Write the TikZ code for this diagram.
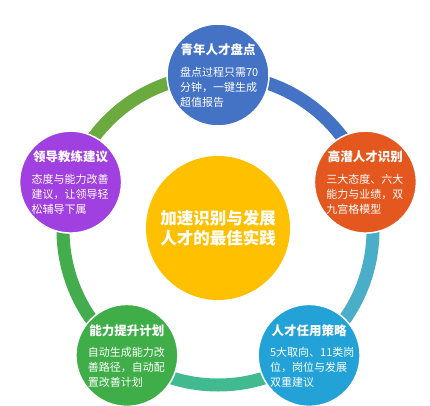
\documentclass[tikz,border=0pt]{standalone}
\usepackage{fontspec}
\newfontfamily\cjk{Noto Sans CJK SC}
\definecolor{blueS}{HTML}{4472C4}
\definecolor{orangeS}{HTML}{E4581F}
\definecolor{tealS}{HTML}{22A2D6}
\definecolor{greenS}{HTML}{3FAE49}
\definecolor{purpleS}{HTML}{A040E0}
\definecolor{yellowS}{HTML}{FFC000}
\definecolor{ringA}{HTML}{4472C4}
\definecolor{ringB}{HTML}{4BAEC8}
\definecolor{ringC}{HTML}{40BA8E}
\definecolor{ringD}{HTML}{43AC4C}
\definecolor{ringE}{HTML}{6BAA3E}
\begin{document}
\begin{tikzpicture}[x=1pt,y=1pt,
  sat/.style={circle, draw=white, line width=1.5pt, minimum size=102pt, inner sep=0pt},
  ttl/.style={text=white, font=\cjk\bfseries\fontsize{12.5}{15}\selectfont, inner sep=0pt},
  bdy/.style={text=white, font=\cjk\fontsize{11}{15}\selectfont, text width=80pt, align=left, inner sep=0pt},
  ring/.style={line width=13pt}]
\useasboundingbox (0,0) rectangle (430,405);
\coordinate (c) at (218,175);
% ring segments
\draw[ring, ringA] (c) ++(90:155) arc[start angle=90, end angle=18, radius=155];
\draw[ring, ringB] (c) ++(18:155) arc[start angle=18, end angle=-54, radius=155];
\draw[ring, ringC] (c) ++(-54:155) arc[start angle=-54, end angle=-126, radius=155];
\draw[ring, ringD] (c) ++(-126:155) arc[start angle=-126, end angle=-198, radius=155];
\draw[ring, ringE] (c) ++(162:155) arc[start angle=162, end angle=90, radius=155];
% center
\node[circle, fill=yellowS, minimum size=144pt, inner sep=0pt] (ctr) at (218,177) {};
\node[text=white, font=\cjk\bfseries\fontsize{16.5}{19.5}\selectfont, align=center] (ctxt) at (ctr.center) {加速识别与发展\\人才的最佳实践};
% satellites
\node[sat, fill=blueS] (s1) at (218,330) {};
\node[sat, fill=orangeS] (s2) at (365.4,222.9) {};
\node[sat, fill=tealS] (s3) at (309.1,49.6) {};
\node[sat, fill=greenS] (s4) at (126.9,49.6) {};
\node[sat, fill=purpleS] (s5) at (70.6,222.9) {};
% texts
\node[ttl] (t1) at ([yshift=25pt]s1.center) {青年人才盘点};
\node[bdy] (b1) at ([xshift=2pt,yshift=-12pt]s1.center) {盘点过程只需70\\分钟，一键生成\\超值报告};
\node[ttl] (t2) at ([yshift=25pt]s2.center) {高潜人才识别};
\node[bdy] (b2) at ([xshift=1pt,yshift=-12pt]s2.center) {三大态度、六大\\能力与业绩，双\\九宫格模型};
\node[ttl] (t3) at ([yshift=25pt]s3.center) {人才任用策略};
\node[bdy] (b3) at ([xshift=1pt,yshift=-12pt]s3.center) {5大取向、11类岗\\位，岗位与发展\\双重建议};
\node[ttl] (t4) at ([yshift=25pt]s4.center) {能力提升计划};
\node[bdy] (b4) at ([xshift=1pt,yshift=-12pt]s4.center) {自动生成能力改\\善路径，自动配\\置改善计划};
\node[ttl] (t5) at ([yshift=25pt]s5.center) {领导教练建议};
\node[bdy] (b5) at ([xshift=1pt,yshift=-12pt]s5.center) {态度与能力改善\\建议，让领导轻\\松辅导下属};
\end{tikzpicture}
\end{document}
